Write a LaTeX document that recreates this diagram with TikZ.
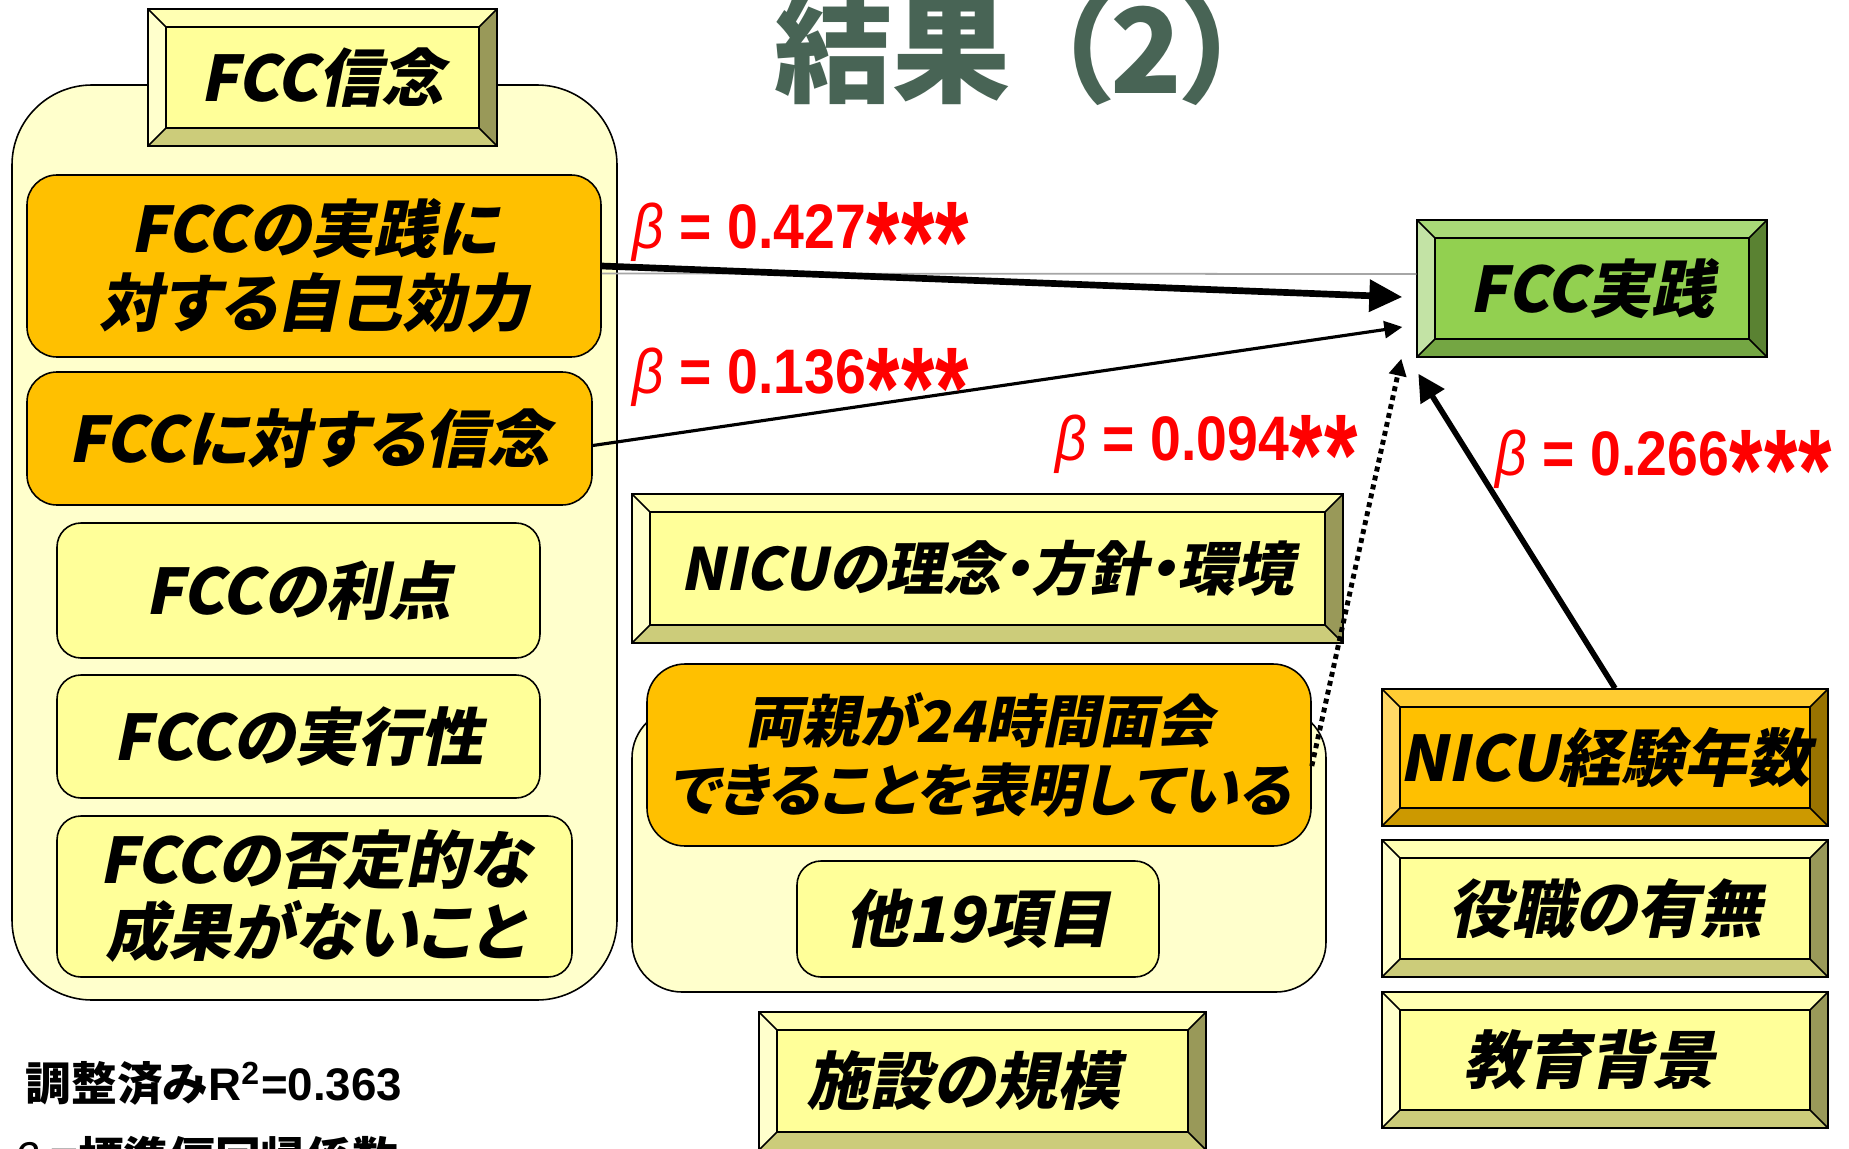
\documentclass[tikz,border=0pt]{standalone}
\usepackage{fontspec}
\usepackage{graphicx}
\usetikzlibrary{arrows.meta,calc}
\newfontfamily\jpit{Noto Sans CJK JP}[FakeSlant=0.2,RawFeature=+palt]
\newfontfamily\jpup{Noto Sans CJK JP}
\newfontfamily\jpttl{Noto Sans CJK JP}[RawFeature=+palt]
\newfontfamily\labfont{Liberation Sans}[FakeStretch=0.88]
\newfontfamily\notelat{Liberation Sans}

\definecolor{contF}{HTML}{FFFFCC}
\definecolor{orF}{HTML}{FFC000}
\definecolor{ylF}{HTML}{FFFF99}
\definecolor{titleC}{HTML}{486455}
% bevel schemes
\definecolor{ylface}{HTML}{FFFF99}
\definecolor{yltop}{HTML}{FFFFB3}
\definecolor{ylleft}{HTML}{FFFFCC}
\definecolor{ylbot}{HTML}{CCCC7A}
\definecolor{ylright}{HTML}{999959}
\definecolor{orface}{HTML}{FFC000}
\definecolor{ortop}{HTML}{FFCC33}
\definecolor{orleft}{HTML}{FFD966}
\definecolor{orbot}{HTML}{CC9900}
\definecolor{orright}{HTML}{997300}
\definecolor{grface}{HTML}{92D050}
\definecolor{grtop}{HTML}{A9DA78}
\definecolor{grleft}{HTML}{C3E3A5}
\definecolor{grbot}{HTML}{74A643}
\definecolor{grright}{HTML}{5A8232}

\newcommand\bet{{\mdseries\itshape β}}
\newcommand\stx{\hspace{0.1mm}\raisebox{-3.5mm}{\scalebox{1.55}[1.85]{*}}}

% bevel box: scheme, name, x1, y1, x2, y2, text
\newcommand\bevbox[7]{%
  \fill[#1face] (#3,#4) rectangle (#5,#6);
  \fill[#1top] (#3,#4) -- (#5,#4) -- (#5-18,#4+18) -- (#3+18,#4+18) -- cycle;
  \fill[#1left] (#3,#4) -- (#3+18,#4+18) -- (#3+18,#6-18) -- (#3,#6) -- cycle;
  \fill[#1bot] (#3,#6) -- (#3+18,#6-18) -- (#5-18,#6-18) -- (#5,#6) -- cycle;
  \fill[#1right] (#5,#4) -- (#5,#6) -- (#5-18,#6-18) -- (#5-18,#4+18) -- cycle;
  \draw[bline] (#3,#4) rectangle (#5,#6) (#3+18,#4+18) rectangle (#5-18,#6-18)
    (#3,#4) -- (#3+18,#4+18) (#5,#4) -- (#5-18,#4+18)
    (#3,#6) -- (#3+18,#6-18) (#5,#6) -- (#5-18,#6-18);
  \pgfmathsetmacro\cx{(#3+#5)/2}\pgfmathsetmacro\cy{(#4+#6)/2}%
  \pgfmathsetmacro\ww{(#5-#3)/10}\pgfmathsetmacro\hh{(#6-#4)/10}%
  \node[btext, minimum width=\ww mm, minimum height=\hh mm] (#2) at (\cx,\cy) {#7};
}
% rounded box: style, name, x1, y1, x2, y2, text
\newcommand\rndbox[7]{%
  \pgfmathsetmacro\cx{(#3+#5)/2}\pgfmathsetmacro\cy{(#4+#6)/2}%
  \pgfmathsetmacro\ww{(#5-#3)/10}\pgfmathsetmacro\hh{(#6-#4)/10}%
  \node[#1, minimum width=\ww mm, minimum height=\hh mm] (#2) at (\cx,\cy) {#7};
}

\tikzset{
  bline/.style={draw=black, line width=0.45pt},
  btext/.style={font=\jpit\bfseries\fontsize{17.9}{20.5}\selectfont, align=center, inner sep=0pt, text=black},
  cont/.style={draw=black, line width=0.45pt, fill=contF, rounded corners=8mm, inner sep=0pt},
  obox/.style={btext, draw=black, line width=0.45pt, fill=orF, rounded corners=3mm},
  ybox/.style={btext, draw=black, line width=0.45pt, fill=ylF, rounded corners=2.4mm},
  lab/.style={font=\labfont\bfseries\fontsize{17.9}{20}\selectfont, text=red, anchor=base west, inner sep=0pt},
  note/.style={font=\jpup\bfseries\fontsize{13}{15}\selectfont, anchor=base west, inner sep=0pt},
  ttl/.style={font=\jpttl\bfseries\fontsize{33.6}{36}\selectfont, text=titleC, anchor=base, inner sep=0pt},
}

\begin{document}
\begin{tikzpicture}[x=0.1mm,y=-0.1mm]
\useasboundingbox (0,0) rectangle (1849,1148);
\clip (0,0) rectangle (1849,1148);
\fill[white] (0,0) rectangle (1849,1148);

% title
\node[ttl] (title) at (1008,94) {結果\hspace{0.35em}（2）};

% left group
\rndbox{cont}{lc}{12}{85}{617}{1000}{}
\bevbox{yl}{fcb}{148}{9}{497}{146}{FCC信念}
\rndbox{obox, font=\jpit\bfseries\fontsize{17.9}{21}\selectfont}{o1}{27}{175}{601}{357}{FCCの実践に\\対する自己効力}
\rndbox{obox}{o2}{27}{372}{592}{505}{FCCに対する信念}
\rndbox{ybox}{y1}{57}{523}{540}{658}{FCCの利点}
\rndbox{ybox}{y2}{57}{675}{540}{798}{FCCの実行性}
\rndbox{ybox}{y3}{57}{816}{572}{977}{FCCの否定的な\\成果がないこと}

% middle group
\bevbox{yl}{nr}{632}{494}{1343}{643}{\fontsize{16.6}{19}\selectfont NICUの理念・方針・環境}
\rndbox{cont, rounded corners=5mm}{mc}{632}{708}{1326}{992}{}
\rndbox{obox, rounded corners=3.8mm, font=\jpit\bfseries\fontsize{16.2}{19.4}\selectfont}{m1}{647}{664}{1311}{846}{両親が24時間面会\\できることを表明している}
\rndbox{ybox}{m2}{797}{861}{1159}{977}{他19項目}
\bevbox{yl}{ss}{759}{1012}{1206}{1150}{施設の規模\hspace{0.6em}}

% right group
\bevbox{gr}{fp}{1417}{220}{1767}{357}{FCC実践}
\bevbox{or}{ne}{1382}{689}{1828}{826}{NICU経験年数}
\bevbox{yl}{yk}{1382}{840}{1828}{977}{役職の有無}
\bevbox{yl}{kb}{1382}{992}{1828}{1128}{教育背景\hspace{0.5em}}

% connectors
\draw[gray!70, line width=0.5pt] ($(o1.east)+(0,7.5)$) -- ($(fp.west)+(0,-14.5)$);
\draw[line width=1.9pt, -{Triangle[length=3.3mm,width=3.1mm]}] (o1.east) -- ($(fp.west)+(-14,8.5)$);
\draw[line width=0.9pt, -{Triangle[length=1.8mm,width=1.7mm]}] ($(o2.east)+(0,7)$) -- ($(fp.west)+(-14,38.5)$);
\draw[line width=1.4pt, dash pattern=on 1.4pt off 1.2pt, -{Triangle[length=1.7mm,width=1.7mm]}] ($(m1.east)+(0,11)$) -- ($(fp.south west)+(-15,1)$);
\draw[line width=1.6pt, -{Triangle[length=2.7mm,width=2.7mm]}] ($(ne.north)+(10,0)$) -- ($(fp.south west)+(2,16)$);

% coefficient labels
\node[lab] (b1) at (632,248) {\bet{} = 0.427\stx\stx\stx};
\node[lab] (b2) at (632,393) {\bet{} = 0.136\stx\stx\stx};
\node[lab] (b3) at (1055,460) {\bet{} = 0.094\stx\stx};
\node[lab] (b4) at (1495,475) {\bet{} = 0.266\stx\stx\stx};

% notes
\node[note] (n1) at (25,1100) {調整済み{\notelat R\textsuperscript{2}=0.363}};
\node[note] (n2) at (13,1175) {{\notelat\mdseries\itshape β} =標準偏回帰係数};
\end{tikzpicture}
\end{document}
